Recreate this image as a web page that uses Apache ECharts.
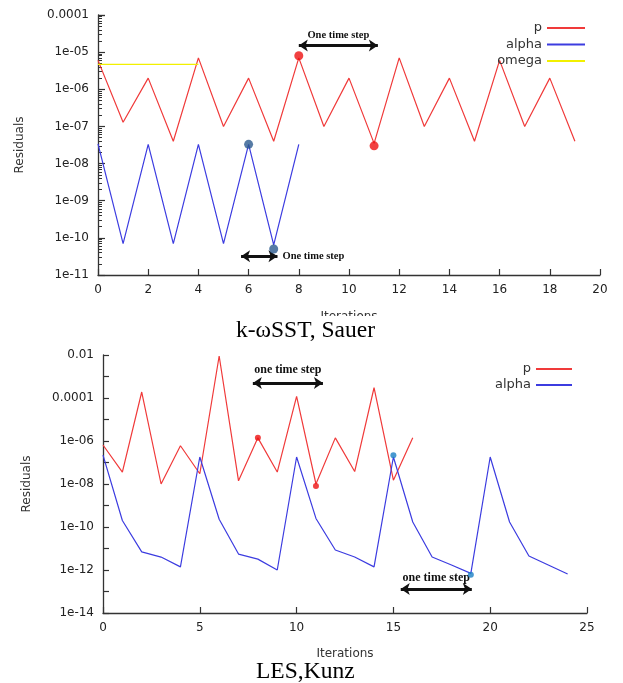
<!DOCTYPE html>
<html>
<head>
<meta charset="utf-8">
<script src="https://cdn.jsdelivr.net/npm/echarts@6/dist/echarts.min.js"></script>
<style>
  body { margin: 0; background: #fff; }
  #main { width: 623px; height: 683px; }
</style>
</head>
<body>
<div id="main"></div>
<script>
// k-omega SST (Sauer) - top plot
var iters1 = [0, 1, 2, 3, 4, 5, 6, 7, 8, 9, 10, 11, 12, 13, 14, 15, 16, 17, 18, 19]
var p1 = [6e-6, 1.3e-7, 2e-6, 4e-8, 7e-6, 1e-7, 2e-6, 4e-8, 7e-6, 1e-7, 2e-6, 3.5e-8, 7e-6, 1e-7, 2e-6, 4e-8, 6e-6, 1e-7, 2e-6, 4e-8]
var alphaIters1 = [0, 1, 2, 3, 4, 5, 6, 7, 8]
var alpha1 = [3.4e-8, 7e-11, 3.3e-8, 7e-11, 3.3e-8, 7e-11, 3.3e-8, 6.5e-11, 3.3e-8]
var omegaIters1 = [0, 1, 2, 3, 4]
var omega1 = [4.7e-6, 4.7e-6, 4.7e-6, 4.7e-6, 4.7e-6]
var redDotX1 = [8, 11]
var redDotY1 = [8e-6, 3e-8]
var blueDotX1 = [6, 7]
var blueDotY1 = [3.3e-8, 5e-11]
var xTicks1 = [0, 20, 2]   // min, max, step

// LES (Kunz) - bottom plot
var iters2 = [0, 1, 2, 3, 4, 5, 6, 7, 8, 9, 10, 11, 12, 13, 14, 15, 16]
var p2 = [6.5e-7, 3.6e-8, 1.9e-4, 1e-8, 6e-7, 3e-8, 9e-3, 1.4e-8, 1.4e-6, 3.6e-8, 1.2e-4, 1e-8, 1.4e-6, 3.8e-8, 3e-4, 1.5e-8, 1.4e-6]
var alphaIters2 = [0, 1, 2, 3, 4, 5, 6, 7, 8, 9, 10, 11, 12, 13, 14, 15, 16, 17, 18, 19, 20, 21, 22, 23, 24]
var alpha2 = [2.2e-7, 2e-10, 7e-12, 4e-12, 1.4e-12, 1.8e-7, 2.3e-10, 5.5e-12, 3.2e-12, 1e-12, 1.8e-7, 2.5e-10, 8.5e-12, 4e-12, 1.4e-12, 1.8e-7, 1.7e-10, 4e-12, 1.7e-12, 7e-13, 1.8e-7, 1.7e-10, 4.5e-12, 1.7e-12, 6.5e-13]
var redDotX2 = [8, 11]
var redDotY2 = [1.4e-6, 8e-9]
var blueDotX2 = [15, 19]
var blueDotY2 = [2.2e-7, 6e-13]
var xTicks2 = [0, 25, 5]

// "one time step" arrows, in data coordinates: [x0, x1, y]
var step1a = [8, 11.15, 1.5e-5]
var step1b = [5.7, 7.15, 3.2e-11]
var step2a = [7.74, 11.36, 5e-4]
var step2b = [15.38, 19.05, 1.3e-13]

var RED = '#f03a3a'
var BLUE = '#3c3ce0'
var YELLOW = '#f2f000'

function pairs(xs, ys) {
  return xs.map(function (x, i) { return [x, ys[i]] })
}

// gnuplot style labels: 0.0001, 1e-05 ...
function logLabel(v) {
  var e = Math.round(Math.log10(v))
  if (e >= -4) return Math.pow(10, e).toFixed(-e)
  return '1e-' + String(-e).padStart(2, '0')
}

function arrow(s, text, pos, dist, size) {
  return [{
    coord: [s[0], s[2]],
    label: {
      show: true, position: pos, distance: dist, formatter: text,
      fontFamily: 'Liberation Serif', fontWeight: 'bold', fontSize: size, color: '#111'
    }
  }, { coord: [s[1], s[2]] }]
}

var chart = echarts.init(document.getElementById('main'))

var axisText = { fontFamily: 'DejaVu Sans', fontSize: 12, color: '#222' }

function xAxis(gi, t, gap) {
  return {
    type: 'value', gridIndex: gi, min: t[0], max: t[1], interval: t[2],
    name: 'Iterations', nameLocation: 'middle', nameGap: gap,
    nameTextStyle: { fontFamily: 'DejaVu Sans', fontSize: 12, color: '#333' },
    axisLine: { lineStyle: { color: '#333', width: 1.3 } },
    axisTick: { inside: true, length: 6, lineStyle: { color: '#333', width: 1.2 } },
    axisLabel: Object.assign({ margin: 9 }, axisText),
    splitLine: { show: false }
  }
}

var captionStyle = { fontFamily: 'Liberation Serif', fontSize: 23.5, fontWeight: 'normal', color: '#000' }

var option = {
  animation: false,
  backgroundColor: '#fff',
  title: [{
    // white box clips the lower part of the "Iterations" name, as in the source
    text: 'k-ωSST, Sauer', left: 234, top: 316, padding: [3, 2, 0, 2],
    backgroundColor: '#fff',
    textStyle: captionStyle
  }, {
    text: 'LES,Kunz', left: 256, top: 660, padding: 0,
    textStyle: captionStyle
  }],
  legend: [{
    data: ['p', 'alpha', 'omega'], orient: 'vertical', align: 'right', padding: 0,
    right: 38, top: 21, icon: 'rect', itemWidth: 38, itemHeight: 2, itemGap: 2.5,
    textStyle: { fontFamily: 'DejaVu Sans', fontSize: 13, color: '#333', lineHeight: 14 }
  }, {
    data: ['p', 'alpha'], orient: 'vertical', align: 'right', padding: 0,
    right: 51, top: 362, icon: 'rect', itemWidth: 36, itemHeight: 2, itemGap: 2,
    textStyle: { fontFamily: 'DejaVu Sans', fontSize: 13, color: '#333', lineHeight: 14 }
  }],
  grid: [
    { left: 98, top: 15, right: 23, bottom: 408 },
    { left: 103, top: 355, right: 36, bottom: 70 }
  ],
  xAxis: [xAxis(0, xTicks1, 36), xAxis(1, xTicks2, 35)],
  yAxis: [{
    type: 'log', logBase: 10, gridIndex: 0, min: 1e-11, max: 1e-4, interval: 1,
    name: 'Residuals', nameLocation: 'middle', nameGap: 72,
    nameTextStyle: { fontFamily: 'DejaVu Sans', fontSize: 12, color: '#333' },
    axisLine: { show: true, lineStyle: { color: '#333', width: 1.3 } },
    axisTick: { inside: true, length: 7, lineStyle: { color: '#333', width: 1.2 } },
    minorTick: { show: true, splitNumber: 9, length: 4, lineStyle: { color: '#333', width: 1 } },
    axisLabel: Object.assign({ margin: 9, formatter: logLabel }, axisText),
    splitLine: { show: false }
  }, {
    type: 'log', logBase: 10, gridIndex: 1, min: 1e-14, max: 1e-2, interval: 1,
    name: 'Residuals', nameLocation: 'middle', nameGap: 70,
    nameTextStyle: { fontFamily: 'DejaVu Sans', fontSize: 12, color: '#333' },
    axisLine: { show: true, lineStyle: { color: '#333', width: 1.3 } },
    axisTick: { inside: true, length: 6, lineStyle: { color: '#333', width: 1.2 } },
    axisLabel: Object.assign({
      margin: 9,
      formatter: function (v) {
        var e = Math.round(Math.log10(v))
        return e % 2 === 0 ? logLabel(v) : ''
      }
    }, axisText),
    splitLine: { show: false }
  }],
  series: [
    { name: 'p', type: 'line', xAxisIndex: 0, yAxisIndex: 0, data: pairs(iters1, p1),
      showSymbol: false, color: RED, lineStyle: { width: 1.2 } },
    { name: 'alpha', type: 'line', xAxisIndex: 0, yAxisIndex: 0, data: pairs(alphaIters1, alpha1),
      showSymbol: false, color: BLUE, lineStyle: { width: 1.2 } },
    { name: 'omega', type: 'line', xAxisIndex: 0, yAxisIndex: 0, data: pairs(omegaIters1, omega1),
      showSymbol: false, color: YELLOW, lineStyle: { width: 1.2 } },
    { type: 'scatter', xAxisIndex: 0, yAxisIndex: 0, data: pairs(redDotX1, redDotY1),
      symbolSize: 9, itemStyle: { color: '#ee1111' }, z: 5 },
    { type: 'scatter', xAxisIndex: 0, yAxisIndex: 0, data: pairs(blueDotX1, blueDotY1),
      symbolSize: 9, itemStyle: { color: '#2c5a8e' }, z: 5,
      markLine: {
        silent: true, symbol: ['arrow', 'arrow'], symbolSize: [9, 9],
        lineStyle: { color: '#111', width: 3, type: 'solid' },
        data: [arrow(step1a, 'One time step', 'middle', 5, 10.5), arrow(step1b, 'One time step', 'end', 5, 10.5)]
      } },

    { name: 'p', type: 'line', xAxisIndex: 1, yAxisIndex: 1, data: pairs(iters2, p2),
      showSymbol: false, color: RED, lineStyle: { width: 1.2 } },
    { name: 'alpha', type: 'line', xAxisIndex: 1, yAxisIndex: 1, data: pairs(alphaIters2, alpha2),
      showSymbol: false, color: BLUE, lineStyle: { width: 1.2 } },
    { type: 'scatter', xAxisIndex: 1, yAxisIndex: 1, data: pairs(redDotX2, redDotY2),
      symbolSize: 6, itemStyle: { color: '#ee1111' }, z: 5 },
    { type: 'scatter', xAxisIndex: 1, yAxisIndex: 1, data: pairs(blueDotX2, blueDotY2),
      symbolSize: 6, itemStyle: { color: '#1a7fc4' }, z: 5,
      markLine: {
        silent: true, symbol: ['arrow', 'arrow'], symbolSize: [9, 9],
        lineStyle: { color: '#111', width: 3, type: 'solid' },
        data: [arrow(step2a, 'one time step', 'middle', 7, 12), arrow(step2b, 'one time step', 'middle', 5, 12)]
      } }
  ]
}

chart.setOption(option)
</script>
</body>
</html>
